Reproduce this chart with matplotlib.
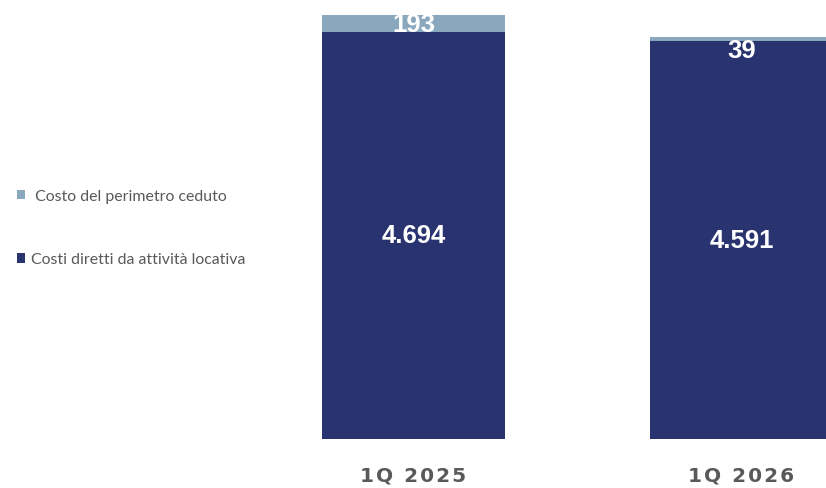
import matplotlib.pyplot as plt
from matplotlib.patches import Patch

# data
categories = ["1Q 2025", "1Q 2026"]
costi_diretti = [4694, 4591]
perimetro_ceduto = [193, 39]
value_labels_dark = ["4.694", "4.591"]
value_labels_light = ["193", "39"]
series_names = [" Costo del perimetro ceduto", "Costi diretti da attività locativa"]

DARK = "#283370"
LIGHT = "#8aa8bd"
GRAY = "#595959"

fig = plt.figure(figsize=(8.26, 4.89), dpi=100)
# axes spans full width, bottom at the bar baseline
ax = fig.add_axes([0, 1 - 440 / 489, 1, 440 / 489])
ax.set_xlim(-1.2607, 1.2576)
ax.set_ylim(0, 5073)
ax.axis("off")

x = list(range(len(categories)))
w = 0.558
ax.bar(x, costi_diretti, width=w, color=DARK)
ax.bar(x, perimetro_ceduto, width=w, bottom=costi_diretti, color=LIGHT)

for i in x:
    ax.text(i, costi_diretti[i] / 2, value_labels_dark[i], color="white",
            fontsize=18.5, fontweight="bold", family="Liberation Sans",
            ha="center", va="center")
    # small segments: push label down into the dark bar
    dy = 0 if perimetro_ceduto[i] > 100 else -7.5
    ax.annotate(value_labels_light[i],
                xy=(i, costi_diretti[i] + perimetro_ceduto[i] / 2),
                xytext=(0, dy), textcoords="offset points",
                color="white", fontsize=18.5, fontweight="bold",
                family="Liberation Sans", ha="center", va="center")
    lab = "\u200a".join(categories[i])
    ax.text(i, -36 * 11.53, lab, color=GRAY, fontsize=14.5, fontweight="bold",
            family="DejaVu Sans", ha="center", va="center", clip_on=False)

handles = [Patch(facecolor=LIGHT), Patch(facecolor=DARK)]
leg = fig.legend(handles, series_names, loc="upper left",
                 bbox_to_anchor=(0.003, 1 - 176 / 489), frameon=False,
                 handlelength=0.55, handleheight=0.55, handletextpad=0.35,
                 labelspacing=3.1, prop={"family": "Lato", "size": 11.4})
for t in leg.get_texts():
    t.set_color(GRAY)

fig.savefig("out.png", dpi=100)
